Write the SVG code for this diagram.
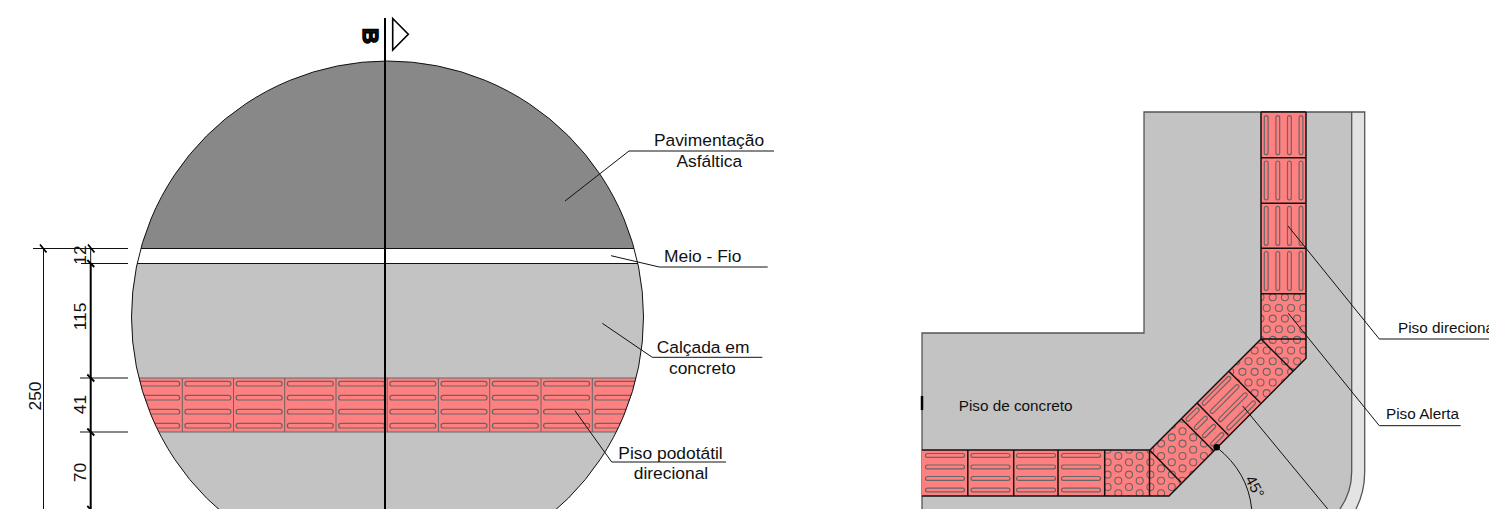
<svg xmlns="http://www.w3.org/2000/svg" width="1489" height="509" viewBox="0 0 1489 509">
<style>
text{font-family:"Liberation Sans",Arial,sans-serif;fill:#111}
.l{font-size:17.4px}.r{font-size:15.3px}
.ln{fill:none;stroke:#111;stroke-width:1}
.th{fill:none;stroke:#000;stroke-width:2}
.tile{fill:none;stroke:#666;stroke-width:1}
.bar{fill:none;stroke:#666;stroke-width:1.2}
.edge{fill:none;stroke:#111;stroke-width:1.5}
.dot{fill:none;stroke:#666;stroke-width:1.1}
</style>
<defs>
<clipPath id="c"><circle cx="387.500" cy="317" r="256"/></clipPath>
<clipPath id="ch"><path d="M1104.700 450H1149.500L1181.700 419L1213.300 450.500L1169 496H1104.700Z"/></clipPath>
<clipPath id="cv"><path d="M1261 293.700H1306V358.300L1260.300 402.700L1229.300 371.700L1261 339Z"/></clipPath>
<rect id="bl" x="-23" y="-2.300" width="46" height="4.600" rx="2.300" class="bar"/>
<rect id="bh" x="-19.500" y="-1.900" width="39" height="3.800" rx="1.900" class="bar"/>
<rect id="bs" x="-8.500" y="-1.900" width="17" height="3.800" rx="1.900" class="bar"/>
<circle id="o" r="3.500" class="dot"/>
<g id="row"><use href="#bl" y="383.700"/><use href="#bl" y="397.700"/><use href="#bl" y="411.700"/><use href="#bl" y="425.700"/></g>
<g id="hb"><use href="#bh" y="-17.500"/><use href="#bh" y="-5.900"/><use href="#bh" y="5.700"/><use href="#bh" y="17.300"/></g>
<g id="sb"><use href="#bs" y="-17.500"/><use href="#bs" y="-5.900"/><use href="#bs" y="5.700"/><use href="#bs" y="17.300"/></g>
<g id="colsH"><use href="#o" x="1107.600" y="6.200"/><use href="#o" x="1118.300"/><use href="#o" x="1129" y="6.200"/><use href="#o" x="1139.700"/><use href="#o" x="1150.400" y="6.200"/><use href="#o" x="1161.100"/><use href="#o" x="1171.800" y="6.200"/><use href="#o" x="1182.500"/><use href="#o" x="1193.200" y="6.200"/><use href="#o" x="1203.900"/><use href="#o" x="1214.600" y="6.200"/></g>
<g id="rowV"><use href="#o" x="1224.100"/><use href="#o" x="1236.300"/><use href="#o" x="1248.500"/><use href="#o" x="1260.500"/><use href="#o" x="1272.700"/><use href="#o" x="1284.900"/><use href="#o" x="1297.100"/><use href="#o" x="1309.300"/><use href="#o" x="1230.200" y="10.650"/><use href="#o" x="1242.400" y="10.650"/><use href="#o" x="1254.600" y="10.650"/><use href="#o" x="1266.700" y="10.650"/><use href="#o" x="1278.900" y="10.650"/><use href="#o" x="1291.100" y="10.650"/><use href="#o" x="1303.300" y="10.650"/></g>
</defs>

<g id="corte">
<g clip-path="url(#c)">
<rect x="131" y="61" width="513" height="187.500" fill="#888"/>
<rect x="131" y="248.500" width="513" height="15" fill="#fff"/>
<rect x="131" y="263.500" width="513" height="246" fill="#c3c3c3"/>
<rect x="131" y="378" width="513" height="54" fill="#ff8080"/>
<path class="tile" d="M131 378H644M131 432H644M182.300 378V432M233.500 378V432M284.700 378V432M336 378V432M387.200 378V432M438.400 378V432M489.700 378V432M541 378V432M592.300 378V432"/>
<use href="#row" x="156.700"/><use href="#row" x="207.900"/><use href="#row" x="259.100"/><use href="#row" x="310.300"/><use href="#row" x="361.600"/><use href="#row" x="412.800"/><use href="#row" x="464"/><use href="#row" x="515.300"/><use href="#row" x="566.600"/><use href="#row" x="617.800"/>
<path class="ln" d="M131 248.500H644M131 263.500H644"/>
</g>
<circle cx="387.500" cy="317" r="256" class="ln"/>
</g>

<g id="cota">
<path class="ln" d="M33 248.500H128M81 263.500H128M80 378H128M80 432H128M43.500 248V509M90.700 248V264"/>
<path d="M90.700 263V509" fill="none" stroke="#000" stroke-width="2"/>
<path fill="none" stroke="#000" stroke-width="1.800" d="M40 244.500L46.500 252.500M88 244.500L94.500 252.500M87.300 260L94.300 267M87.300 374.500L94.300 381.500M87.300 428.500L94.300 435.500M87.300 506L94.300 513"/>
<text class="l" transform="translate(40.500,396) rotate(-90)" text-anchor="middle">250</text>
<text class="l" transform="translate(85.500,255) rotate(-90)" text-anchor="middle">12</text>
<text class="l" transform="translate(85.500,316.500) rotate(-90)" text-anchor="middle">115</text>
<text class="l" transform="translate(85.500,404.500) rotate(-90)" text-anchor="middle">41</text>
<text class="l" transform="translate(85.500,472.500) rotate(-90)" text-anchor="middle">70</text>
</g>

<g id="secao">
<path class="th" d="M385 18V509"/>
<path d="M392.700 18.500L408.300 34.300L392.700 50Z" fill="none" stroke="#000" stroke-width="1.600"/>
<text transform="translate(362.500,36) rotate(90)" text-anchor="middle" font-size="22" font-weight="700" stroke="#000" stroke-width="1.500">B</text>
</g>

<g id="rotulos-corte">
<path class="ln" d="M565 201L629 151H774M611 255.700L659.300 267H767.700M602.300 323.300L652.300 357.300H762.300M575 410.700L611.700 462H726"/>
<text class="l" x="709" y="145.700" text-anchor="middle">Pavimentação</text>
<text class="l" x="709.300" y="166.700" text-anchor="middle">Asfáltica</text>
<text class="l" x="664" y="261.700">Meio - Fio</text>
<text class="l" x="656.700" y="353.300">Calçada em</text>
<text class="l" x="702.300" y="374" text-anchor="middle">concreto</text>
<text class="l" x="618.300" y="458.700">Piso podotátil</text>
<text class="l" x="671" y="478.700" text-anchor="middle">direcional</text>
</g>

<g id="planta-piso">
<path d="M1351.700 112H1364.700V471.700Q1364.700 492 1356 509H1340Q1351.700 492 1351.700 471.700Z" fill="#e3e3e3"/>
<path d="M922 333H1144V112H1351.700V471.700Q1351.700 492 1340 509H922Z" fill="#c3c3c3"/>
<path d="M922 509V333H1144V112H1364.700V471.700Q1364.700 492 1356 509M1351.700 112V471.700Q1351.700 492 1340 509" fill="none" stroke="#555" stroke-width="1.300"/>
<path d="M922 396V410" stroke="#000" stroke-width="2.500" fill="none"/>
</g>

<g id="faixa-tatil">
<path d="M922 450H1150L1261 339V112H1306V358.300L1169 496H922Z" fill="#ff8080"/>
<g clip-path="url(#ch)">
<use href="#colsH" y="406.400"/><use href="#colsH" y="418.800"/><use href="#colsH" y="431.200"/><use href="#colsH" y="443.600"/><use href="#colsH" y="456"/><use href="#colsH" y="468.400"/><use href="#colsH" y="480.800"/><use href="#colsH" y="493.200"/>
</g>
<g clip-path="url(#cv)">
<use href="#rowV" y="276"/><use href="#rowV" y="297.300"/><use href="#rowV" y="318.600"/><use href="#rowV" y="339.900"/><use href="#rowV" y="361.200"/><use href="#rowV" y="382.500"/>
</g>
<use href="#bh" transform="translate(945,455.400)"/><use href="#bh" transform="translate(945,466.900)"/><use href="#bh" transform="translate(945,478.400)"/><use href="#bh" transform="translate(945,490)"/>
<use href="#bh" transform="translate(990.500,455.400)"/><use href="#bh" transform="translate(990.500,466.900)"/><use href="#bh" transform="translate(990.500,478.400)"/><use href="#bh" transform="translate(990.500,490)"/>
<use href="#bh" transform="translate(1036,455.400)"/><use href="#bh" transform="translate(1036,466.900)"/><use href="#bh" transform="translate(1036,478.400)"/><use href="#bh" transform="translate(1036,490)"/>
<use href="#bh" transform="translate(1081,455.400)"/><use href="#bh" transform="translate(1081,466.900)"/><use href="#bh" transform="translate(1081,478.400)"/><use href="#bh" transform="translate(1081,490)"/>
<use href="#hb" transform="translate(1283.500,135.200) rotate(90)"/>
<use href="#hb" transform="translate(1283.500,180.500) rotate(90)"/>
<use href="#hb" transform="translate(1283.500,225.800) rotate(90)"/>
<use href="#hb" transform="translate(1283.500,271) rotate(90)"/>
<use href="#hb" transform="translate(1228.800,403.200) rotate(-45)"/>
<use href="#sb" transform="translate(1205,427) rotate(-45)"/>
<path class="edge" d="M922 450H1150L1261 339V112M1306 112V358.300L1169 496H922M1261 112H1306M1261 157.700H1306M1261 203.300H1306M1261 248.300H1306M1261 293.700H1306M1261 339H1306M967.800 450V496M1013.700 450V496M1058 450V496M1104.700 450V496M1149.500 450V496M1149.500 450L1181 482.300M1181.700 419L1213.300 450.500M1197.300 403.300L1228.300 435M1229.300 371.700L1260.300 402.700M1261 339L1292.700 370.700"/>
</g>

<g id="rotulos-planta">
<circle cx="1216.700" cy="447.300" r="3.300" fill="#000"/>
<path class="ln" d="M1216.700 447.300Q1248 472 1251.700 509"/>
<path class="ln" d="M1288 226L1379.300 339H1489M1288.300 313.300L1379.300 425.700H1460.700M1242.700 406L1327.700 509"/>
<text class="r" x="958.700" y="411">Piso de concreto</text>
<text class="r" x="1398" y="332.700">Piso direciona</text>
<text class="r" x="1386" y="418.700">Piso Alerta</text>
<text class="r" transform="translate(1244.700,479) rotate(62)">45°</text>
</g>
</svg>
